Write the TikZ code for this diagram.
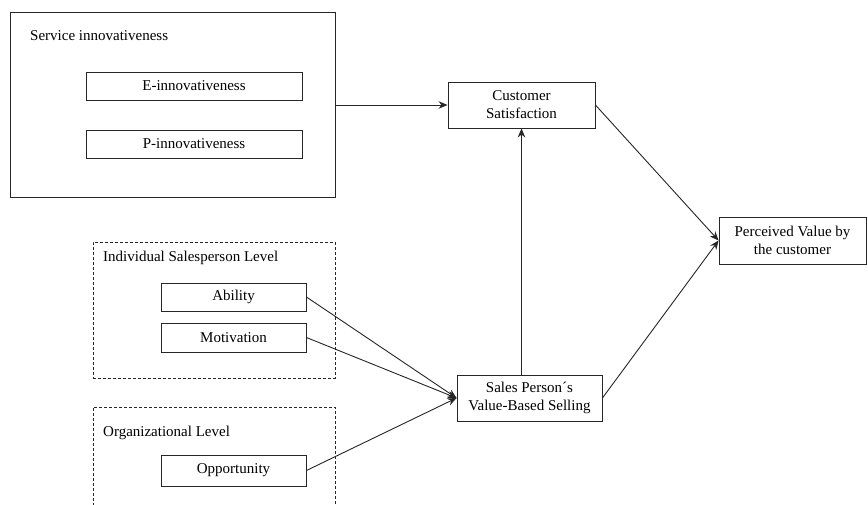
\documentclass[tikz,border=0pt]{standalone}
\usepackage{fontspec}
\setmainfont{Liberation Serif}
\usetikzlibrary{arrows.meta}
\begin{document}
\begin{tikzpicture}[x=1pt,y=-1pt,
  font=\fontsize{15}{18}\selectfont,
  box/.style={draw=black!85, line width=0.9pt, rectangle, inner sep=0pt, align=center},
  groupbox/.style={draw=black!85, line width=0.9pt, rectangle, inner sep=0pt},
  dashgroup/.style={draw=black!85, line width=0.9pt, rectangle, inner sep=0pt, dash pattern=on 3pt off 2pt},
  grouptitle/.style={anchor=west, inner sep=0pt},
  link/.style={draw=black!85, line width=0.9pt, -{Stealth[length=9pt,width=7.5pt]}}]
\useasboundingbox (0,0) rectangle (868,504);
\clip (0,0) rectangle (868,504);

% Service innovativeness group
\node[groupbox, minimum width=325pt, minimum height=185pt] (svc) at (172.5,104.5) {};
\node[grouptitle] (svct) at (30,36) {Service innovativeness};
\node[box, minimum width=216pt, minimum height=28pt] (einno) at (194,86) {E-innovativeness};
\node[box, minimum width=216pt, minimum height=28pt] (pinno) at (194,144) {P-innovativeness};

% Outcome constructs
\node[box, minimum width=147pt, minimum height=46pt] (cs) at (521.5,105) {Customer\\Satisfaction};
\node[box, minimum width=147pt, minimum height=47pt] (pv) at (792.5,240.5) {Perceived Value by\\the customer};
\node[box, minimum width=145pt, minimum height=46pt] (sp) at (529.5,398) {Sales Person´s\\Value-Based Selling};

% Individual salesperson level
\node[dashgroup, minimum width=242pt, minimum height=136pt] (ind) at (214,310) {};
\node[grouptitle] (indt) at (103,258) {Individual Salesperson Level};
\node[box, minimum width=145pt, minimum height=28pt] (abil) at (233.5,297) {Ability};
\node[box, minimum width=145pt, minimum height=29pt] (motiv) at (233.5,337.5) {Motivation};

% Organizational level (runs past the lower edge)
\node[dashgroup, minimum width=242pt, minimum height=130pt] (org) at (214,472) {};
\node[grouptitle] (orgt) at (103,433) {Organizational Level};
\node[box, minimum width=145pt, minimum height=31pt] (opp) at (233.5,470.5) {Opportunity};

% Connectors
\draw[link] (svc.east |- cs.west) -- (cs.west);
\draw[link] (abil.east) -- (sp.west);
\draw[link] (motiv.east) -- (sp.west);
\draw[link] (opp.east) -- (sp.west);
\draw[link] (sp.north -| cs.south) -- (cs.south);
\draw[link] (cs.east) -- (pv.west);
\draw[link] (sp.east) -- (pv.west);
\end{tikzpicture}
\end{document}
